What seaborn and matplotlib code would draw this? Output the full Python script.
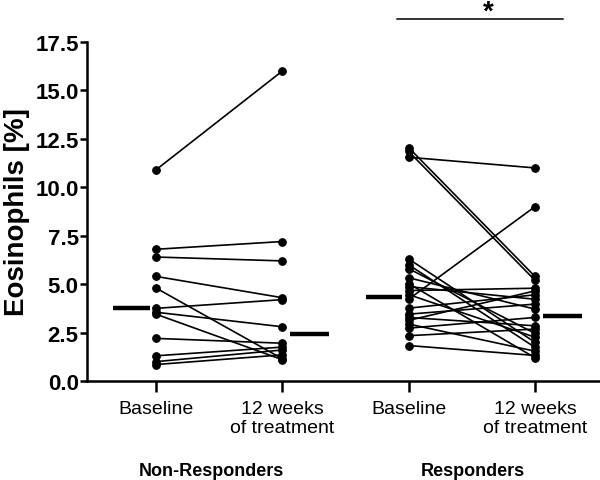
import numpy as np
import pandas as pd
import matplotlib
matplotlib.use("Agg")
import matplotlib.pyplot as plt
import matplotlib.transforms as mtransforms
import seaborn as sns

# ---- data ----
categories = ["Baseline", "12 weeks\nof treatment", "Baseline", "12 weeks\nof treatment"]
groups = ["Non-Responders", "Responders"]

nr_baseline = [10.9, 6.8, 6.4, 5.4, 4.8, 3.75, 3.55, 3.45, 2.2, 1.3, 1.0, 0.85]
nr_week12 = [16.0, 7.2, 6.2, 4.3, 1.15, 4.2, 2.8, 1.1, 1.95, 1.75, 1.6, 1.35]

r_baseline = [12.05, 11.85, 11.55, 6.3, 6.0, 5.8, 5.33, 5.03, 4.87, 4.67, 4.46,
              4.22, 3.76, 3.45, 3.28, 3.13, 2.94, 2.73, 2.34, 1.83]
r_week12 = [5.4, 5.2, 11.0, 2.0, 1.74, 2.46, 3.71, 1.2, 4.22, 4.79, 2.26,
            9.0, 4.45, 3.97, 2.85, 4.65, 1.54, 3.28, 2.68, 1.32]

medians = [3.75, 2.45, 4.36, 3.38]
yticks = [0.0, 2.5, 5.0, 7.5, 10.0, 12.5, 15.0, 17.5]

# ---- long table ----
rows = []
for i, (b, w) in enumerate(zip(nr_baseline, nr_week12)):
    rows.append(dict(subject=f"NR{i}", pos=0, value=b))
    rows.append(dict(subject=f"NR{i}", pos=1, value=w))
for i, (b, w) in enumerate(zip(r_baseline, r_week12)):
    rows.append(dict(subject=f"R{i}", pos=2, value=b))
    rows.append(dict(subject=f"R{i}", pos=3, value=w))
df = pd.DataFrame(rows)

sns.set_style("ticks")
plt.rcParams["font.family"] = ["Liberation Sans", "DejaVu Sans"]
plt.rcParams.update({"text.color": "black", "axes.labelcolor": "black",
                     "xtick.color": "black", "ytick.color": "black",
                     "axes.edgecolor": "black"})

fig = plt.figure(figsize=(6.0, 4.81), dpi=100)
ax = fig.add_axes([87 / 600, 1 - 382 / 481, 1 - 87 / 600, 339 / 481])

sns.lineplot(data=df, x="pos", y="value", units="subject", estimator=None,
             color="black", linewidth=1.2, marker="o", markersize=5.5,
             markeredgecolor="black", markerfacecolor="black", ax=ax,
             legend=False)

# median bars
offs = [(-0.34, -0.05), (0.06, 0.37), (-0.34, -0.05), (0.06, 0.37)]
for p, (m, (a, b)) in enumerate(zip(medians, offs)):
    ax.hlines(m, p + a, p + b, color="black", linewidth=3.2)

ax.set_xlim(-0.546, 3.515)
ax.set_ylim(0, 17.5)
ax.set_yticks(yticks)
ax.set_yticklabels([f"{v:.1f}" for v in yticks], fontsize=16, fontweight="bold")
ax.set_xticks(range(4))
ax.set_xticklabels(categories, fontsize=14, linespacing=1.12)
ax.set_xlabel("")
ax.set_ylabel("Eosinophils [%]", fontsize=20, fontweight="bold", labelpad=4)

for s in ["top", "right"]:
    ax.spines[s].set_visible(False)
for s in ["left", "bottom"]:
    ax.spines[s].set_linewidth(1.8)
    ax.spines[s].set_color("black")
ax.tick_params(axis="y", length=5, width=1.8, pad=1, colors="black")
ax.tick_params(axis="x", length=8, width=1.8, pad=6, colors="black")

# group labels
trans = mtransforms.blended_transform_factory(ax.transData, ax.transAxes)
ax.text(0.44, -0.265, groups[0], transform=trans, ha="center", va="center",
        fontsize=13, fontweight="bold")
ax.text(2.51, -0.265, groups[1], transform=trans, ha="center", va="center",
        fontsize=13, fontweight="bold")

# significance bar
ax.plot([1.91, 3.22], [18.69, 18.69], color="#333333", linewidth=1.4, clip_on=False)
ax.text(2.63, 18.72, "*", ha="center", va="baseline", fontsize=20,
        fontweight="bold")

fig.savefig("out.png", dpi=100)
